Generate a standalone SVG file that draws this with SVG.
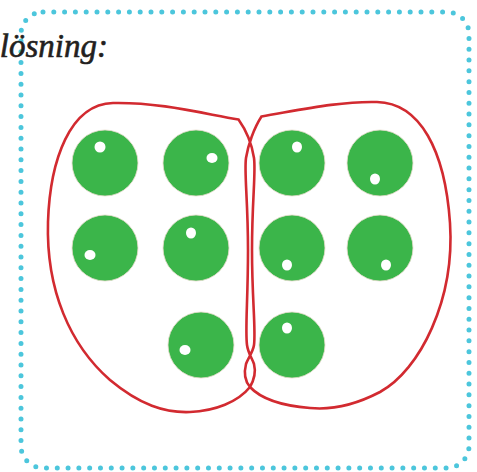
<svg xmlns="http://www.w3.org/2000/svg" width="477" height="472" viewBox="0 0 477 472">
  <style>
    .frame { fill: none; stroke: #4cc6dc; stroke-width: 5; stroke-linecap: round; stroke-dasharray: 0 10.8; }
    .ball { fill: #3bb54a; stroke: #e6dccb; stroke-width: 0.8; }
    .shine { fill: #ffffff; }
    .loop { fill: none; stroke: #d22a30; stroke-width: 2.6; stroke-linejoin: miter; }
  </style>
  <rect class="frame" x="21" y="12" width="448" height="456" rx="22" ry="22"/>
  <text x="108" y="57" text-anchor="end" font-family="'Liberation Serif', 'DejaVu Serif', serif" font-style="italic" font-size="33" fill="#231f20" stroke="#231f20" stroke-width="0.6">lösning:</text>

  <g id="connectors">
    <path class="loop" d="M 238.5 119.5 C 205 114, 160 102, 113 103 C 70 104, 50 160, 48 222 C 46 290, 70 345, 110 380 C 140 405, 165 413, 190 412 C 215 411, 238 402, 250 387 C 254 380, 256 372, 254 364 C 252 358, 248 353, 247 345 C 245 330, 248 300, 248 250 C 248 200, 244 172, 246 158 C 248 145, 254 128, 261.5 116.5 C 300 110, 340 101, 377 102 C 420 103, 445 150, 450 223 C 455 300, 420 370, 380 392 C 355 405, 330 410, 310 408 C 285 406, 262 400, 250 387 C 244 380, 244 372, 246 364 C 248 358, 253 352, 254 345 C 256 330, 252 300, 252 250 C 252 200, 256 172, 254 158 C 252 145, 246 130, 238.5 119.5 Z"/>
  </g>

  <g id="ball1"><circle class="ball" cx="105" cy="163" r="33"/><ellipse class="shine" cx="100" cy="147" rx="5.5" ry="5.5"/></g>
  <g id="ball2"><circle class="ball" cx="196" cy="163" r="33"/><ellipse class="shine" cx="212" cy="158" rx="5.5" ry="5"/></g>
  <g id="ball3"><circle class="ball" cx="292" cy="163" r="33"/><ellipse class="shine" cx="297" cy="147" rx="5" ry="5.5"/></g>
  <g id="ball4"><circle class="ball" cx="380" cy="163" r="33"/><ellipse class="shine" cx="375" cy="179" rx="5" ry="5.5"/></g>
  <g id="ball5"><circle class="ball" cx="105" cy="248" r="33"/><ellipse class="shine" cx="90" cy="255" rx="5.5" ry="5"/></g>
  <g id="ball6"><circle class="ball" cx="196" cy="248" r="33"/><ellipse class="shine" cx="191" cy="233" rx="5" ry="5.5"/></g>
  <g id="ball7"><circle class="ball" cx="292" cy="248" r="33"/><ellipse class="shine" cx="287" cy="265" rx="5" ry="5.5"/></g>
  <g id="ball8"><circle class="ball" cx="380" cy="248" r="33"/><ellipse class="shine" cx="386" cy="265" rx="5" ry="5.5"/></g>
  <g id="ball9"><circle class="ball" cx="201" cy="345" r="33"/><ellipse class="shine" cx="185" cy="350" rx="5.5" ry="5"/></g>
  <g id="ball10"><circle class="ball" cx="292" cy="345" r="33"/><ellipse class="shine" cx="287" cy="328" rx="5" ry="5.5"/></g>
</svg>
